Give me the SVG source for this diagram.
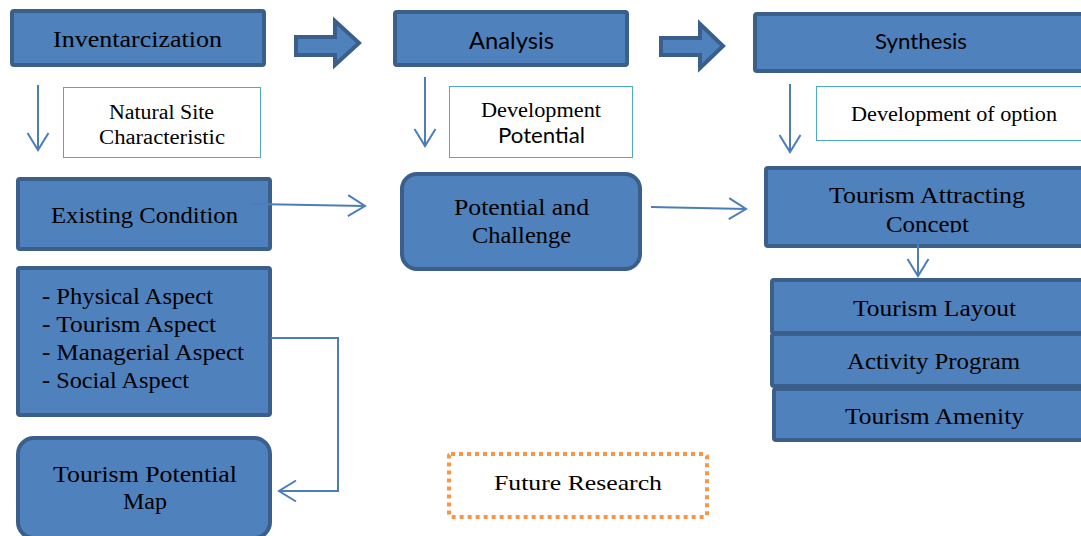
<svg xmlns="http://www.w3.org/2000/svg" width="1081" height="536" viewBox="0 0 1081 536">
  <style>
    .box { fill: #4F81BD; stroke: #3A5F8B; stroke-width: 4; }
    .note { fill: #FFFFFF; stroke: #4BACC6; stroke-width: 1; }
    .dotted { fill: #FFFFFF; stroke: #F79646; stroke-width: 4; stroke-dasharray: 4 4; }
    .serif { font-family: "Liberation Serif", "DejaVu Serif", serif; fill: #000; }
    .sans { font-family: "Lato", "Liberation Sans", sans-serif; fill: #000; }
    .big { font-size: 23px; }
    .mid { font-size: 20px; }
    .conn { fill: none; stroke: #4A7EBB; stroke-width: 2; }
    .block { fill: #4F81BD; stroke: #3A5F8B; stroke-width: 4; stroke-linejoin: miter; }
  </style>
  <defs>
    <marker id="open" viewBox="0 0 22 24" refX="19" refY="12" markerWidth="22" markerHeight="24" markerUnits="userSpaceOnUse" orient="auto">
      <path d="M2,1.5 L19,12 L2,22.5" fill="none" stroke="#4A7EBB" stroke-width="2"/>
    </marker>
    <clipPath id="conceptClip">
      <rect x="765" y="167" width="316" height="65.5"/>
    </clipPath>
  </defs>

  <rect width="1081" height="536" fill="#FFFFFF"/>

  <!-- stage headers -->
  <g id="inventarcization">
    <rect class="box" x="12" y="11" width="252" height="54" rx="2"/>
    <text class="serif big" x="53" y="47" textLength="169" lengthAdjust="spacingAndGlyphs">Inventarcization</text>
  </g>
  <g id="analysis">
    <rect class="box" x="395" y="12" width="232" height="53" rx="2"/>
    <text class="sans" x="469" y="49" font-size="23" textLength="85" lengthAdjust="spacingAndGlyphs">Analysis</text>
  </g>
  <g id="synthesis">
    <rect class="box" x="755" y="14" width="330" height="57" rx="2"/>
    <text class="sans" x="875" y="49" font-size="22" textLength="92" lengthAdjust="spacingAndGlyphs">Synthesis</text>
  </g>

  <!-- stage notes -->
  <g id="natural-site">
    <rect class="note" x="63.5" y="87.5" width="197" height="70"/>
    <text class="serif mid" x="109" y="119" textLength="105" lengthAdjust="spacingAndGlyphs">Natural Site</text>
    <text class="serif mid" x="99" y="144" textLength="126" lengthAdjust="spacingAndGlyphs">Characteristic</text>
  </g>
  <g id="development-potential">
    <rect class="note" x="449.5" y="86.5" width="183" height="71"/>
    <text class="serif mid" x="481" y="117" textLength="120" lengthAdjust="spacingAndGlyphs">Development</text>
    <text class="sans" x="498" y="143" font-size="21" textLength="87" lengthAdjust="spacingAndGlyphs">Potential</text>
  </g>
  <g id="development-option">
    <rect class="note" x="816.5" y="86.5" width="270" height="54"/>
    <text class="serif mid" x="851" y="121" textLength="206" lengthAdjust="spacingAndGlyphs">Development of option</text>
  </g>

  <!-- left column -->
  <g id="existing-condition">
    <rect class="box" x="18" y="179" width="252" height="70" rx="2"/>
    <text class="serif big" x="51" y="223" textLength="187" lengthAdjust="spacingAndGlyphs">Existing Condition</text>
  </g>
  <g id="aspects">
    <rect class="box" x="18" y="268" width="252" height="147" rx="2"/>
    <text class="serif big" x="42" y="304" textLength="171" lengthAdjust="spacingAndGlyphs">- Physical Aspect</text>
    <text class="serif big" x="42" y="332" textLength="174" lengthAdjust="spacingAndGlyphs">- Tourism Aspect</text>
    <text class="serif big" x="42" y="360" textLength="202" lengthAdjust="spacingAndGlyphs">- Managerial Aspect</text>
    <text class="serif big" x="42" y="388" textLength="147" lengthAdjust="spacingAndGlyphs">- Social Aspect</text>
  </g>
  <g id="tourism-potential-map">
    <rect class="box" x="18" y="438" width="252" height="100" rx="16"/>
    <text class="serif big" x="53" y="482" textLength="184" lengthAdjust="spacingAndGlyphs">Tourism Potential</text>
    <text class="serif big" x="123" y="509" textLength="44" lengthAdjust="spacingAndGlyphs">Map</text>
  </g>

  <!-- middle column -->
  <g id="potential-challenge">
    <rect class="box" x="402" y="174" width="238" height="95" rx="15"/>
    <text class="serif big" x="454" y="215" textLength="135" lengthAdjust="spacingAndGlyphs">Potential and</text>
    <text class="serif big" x="472" y="243" textLength="99" lengthAdjust="spacingAndGlyphs">Challenge</text>
  </g>
  <g id="future-research">
    <rect class="dotted" x="449" y="454" width="258" height="63" rx="2"/>
    <text class="serif" x="494" y="490" font-size="22" textLength="168" lengthAdjust="spacingAndGlyphs">Future Research</text>
  </g>

  <!-- right column -->
  <g id="attracting-concept">
    <rect class="box" x="766" y="168" width="320" height="78" rx="2"/>
    <text class="serif big" x="829" y="203" textLength="196" lengthAdjust="spacingAndGlyphs">Tourism Attracting</text>
    <text class="serif big" x="886" y="232" textLength="83" lengthAdjust="spacingAndGlyphs" clip-path="url(#conceptClip)">Concept</text>
  </g>
  <g id="tourism-layout">
    <rect class="box" x="772" y="280" width="314" height="53" rx="2"/>
    <text class="serif big" x="853" y="316" textLength="163" lengthAdjust="spacingAndGlyphs">Tourism Layout</text>
  </g>
  <g id="activity-program">
    <rect class="box" x="772" y="334" width="314" height="52" rx="2"/>
    <text class="serif big" x="847" y="369" textLength="173" lengthAdjust="spacingAndGlyphs">Activity Program</text>
  </g>
  <g id="tourism-amenity">
    <rect class="box" x="774" y="389" width="312" height="51" rx="2"/>
    <text class="serif big" x="845" y="424" textLength="179" lengthAdjust="spacingAndGlyphs">Tourism Amenity</text>
  </g>

  <!-- connectors -->
  <g id="connectors">
    <path class="block" d="M296,37 L335,37 L335,21 L359,43 L335,65 L335,55 L296,55 Z"/>
    <path class="block" d="M661,38 L700,38 L700,24 L723,46 L700,68 L700,55 L661,55 Z"/>
    <line class="conn" x1="38" y1="85" x2="38" y2="150" marker-end="url(#open)"/>
    <line class="conn" x1="425" y1="77" x2="425" y2="146" marker-end="url(#open)"/>
    <line class="conn" x1="790" y1="84" x2="790" y2="152" marker-end="url(#open)"/>
    <line class="conn" x1="250" y1="204" x2="365" y2="206" marker-end="url(#open)"/>
    <line class="conn" x1="651" y1="207" x2="746" y2="209" marker-end="url(#open)"/>
    <line class="conn" x1="918" y1="238" x2="918" y2="276" marker-end="url(#open)"/>
    <path class="conn" d="M271,338 L338,338 L338,491 L279,491" marker-end="url(#open)"/>
  </g>
</svg>
